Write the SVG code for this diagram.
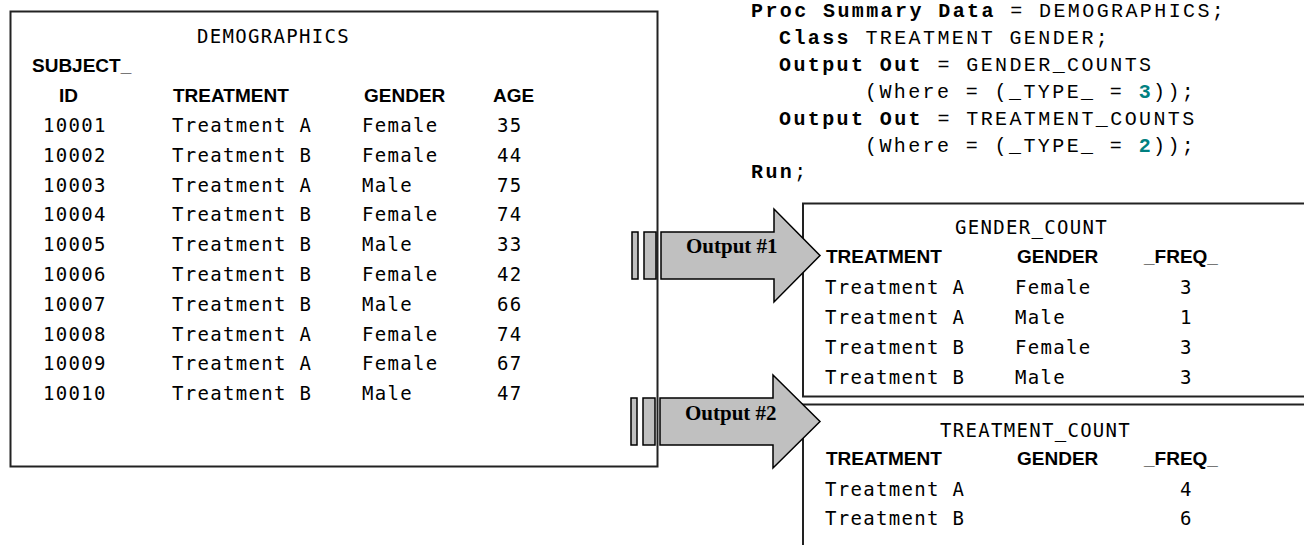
<svg xmlns="http://www.w3.org/2000/svg" width="1304" height="545" viewBox="0 0 1304 545">
<style>
.box{fill:#fff;stroke:#222;stroke-width:2}
.arrow{fill:#c0c0c0;stroke:#000;stroke-width:1.5}
.mono{font-family:"DejaVu Sans Mono",monospace;font-size:19px;letter-spacing:1.3px;fill:#000}
.hdr{font-family:"Liberation Sans",Arial,sans-serif;font-weight:bold;font-size:19px;fill:#000}
.code{font-family:"Liberation Mono","Courier New",Courier,monospace;font-size:20px;letter-spacing:2.4px;fill:#000}
.kw{font-weight:bold}
.num{font-weight:bold;fill:#008080}
.lbl{font-family:"Liberation Serif","Times New Roman",serif;font-weight:bold;font-size:21px;fill:#000}
</style>
<rect width="1304" height="545" fill="#fff"/>

<g id="code">
<text class="code" x="751" y="17"><tspan class="kw">Proc Summary Data</tspan> = DEMOGRAPHICS;</text>
<text class="code" x="779" y="44"><tspan class="kw">Class</tspan> TREATMENT GENDER;</text>
<text class="code" x="779" y="71"><tspan class="kw">Output Out</tspan> = GENDER_COUNTS</text>
<text class="code" x="865" y="98">(Where = (_TYPE_ = <tspan class="num">3</tspan>));</text>
<text class="code" x="779" y="125"><tspan class="kw">Output Out</tspan> = TREATMENT_COUNTS</text>
<text class="code" x="865" y="152">(Where = (_TYPE_ = <tspan class="num">2</tspan>));</text>
<text class="code" x="751" y="178"><tspan class="kw">Run</tspan>;</text>
</g>

<g id="demographics">
<rect class="box" x="10.5" y="11.5" width="647" height="455"/>
<text class="mono" x="197" y="43">DEMOGRAPHICS</text>
<text class="hdr" x="32" y="72">SUBJECT_</text>
<text class="hdr" x="59" y="102">ID</text>
<text class="hdr" x="173" y="102">TREATMENT</text>
<text class="hdr" x="364" y="102">GENDER</text>
<text class="hdr" x="493" y="102">AGE</text>
<g class="mono">
<text x="43" y="132">10001</text><text x="172" y="132">Treatment A</text><text x="362" y="132">Female</text><text x="497" y="132">35</text>
<text x="43" y="162">10002</text><text x="172" y="162">Treatment B</text><text x="362" y="162">Female</text><text x="497" y="162">44</text>
<text x="43" y="192">10003</text><text x="172" y="192">Treatment A</text><text x="362" y="192">Male</text><text x="497" y="192">75</text>
<text x="43" y="221">10004</text><text x="172" y="221">Treatment B</text><text x="362" y="221">Female</text><text x="497" y="221">74</text>
<text x="43" y="251">10005</text><text x="172" y="251">Treatment B</text><text x="362" y="251">Male</text><text x="497" y="251">33</text>
<text x="43" y="281">10006</text><text x="172" y="281">Treatment B</text><text x="362" y="281">Female</text><text x="497" y="281">42</text>
<text x="43" y="311">10007</text><text x="172" y="311">Treatment B</text><text x="362" y="311">Male</text><text x="497" y="311">66</text>
<text x="43" y="341">10008</text><text x="172" y="341">Treatment A</text><text x="362" y="341">Female</text><text x="497" y="341">74</text>
<text x="43" y="370">10009</text><text x="172" y="370">Treatment A</text><text x="362" y="370">Female</text><text x="497" y="370">67</text>
<text x="43" y="400">10010</text><text x="172" y="400">Treatment B</text><text x="362" y="400">Male</text><text x="497" y="400">47</text>
</g>
</g>

<g id="gender_count">
<rect class="box" x="803" y="203.5" width="520" height="193"/>
<text class="mono" x="955" y="234">GENDER_COUNT</text>
<text class="hdr" x="826" y="263">TREATMENT</text>
<text class="hdr" x="1017" y="263">GENDER</text>
<text class="hdr" x="1144" y="263">_FREQ_</text>
<g class="mono">
<text x="825" y="294">Treatment A</text><text x="1015" y="294">Female</text><text x="1180" y="294">3</text>
<text x="825" y="324">Treatment A</text><text x="1015" y="324">Male</text><text x="1180" y="324">1</text>
<text x="825" y="354">Treatment B</text><text x="1015" y="354">Female</text><text x="1180" y="354">3</text>
<text x="825" y="384">Treatment B</text><text x="1015" y="384">Male</text><text x="1180" y="384">3</text>
</g>
</g>

<g id="treatment_count">
<rect class="box" x="803" y="404.5" width="520" height="200"/>
<text class="mono" x="940" y="437">TREATMENT_COUNT</text>
<text class="hdr" x="826" y="465">TREATMENT</text>
<text class="hdr" x="1017" y="465">GENDER</text>
<text class="hdr" x="1144" y="465">_FREQ_</text>
<g class="mono">
<text x="825" y="496">Treatment A</text><text x="1180" y="496">4</text>
<text x="825" y="525">Treatment B</text><text x="1180" y="525">6</text>
</g>
</g>

<g id="connectors">
<g id="output1">
<rect class="arrow" x="632" y="232" width="6" height="47"/>
<rect class="arrow" x="644" y="232" width="12" height="47"/>
<polygon class="arrow" points="661,232 774,232 774,209 820,255.5 774,302 774,279 661,279"/>
<text class="lbl" x="686" y="253">Output #1</text>
</g>
<g id="output2">
<rect class="arrow" x="631" y="398" width="6" height="47"/>
<rect class="arrow" x="643" y="398" width="12" height="47"/>
<polygon class="arrow" points="660,398 773,398 773,375 820,421.5 773,468 773,445 660,445"/>
<text class="lbl" x="685" y="420">Output #2</text>
</g>
</g>
</svg>
